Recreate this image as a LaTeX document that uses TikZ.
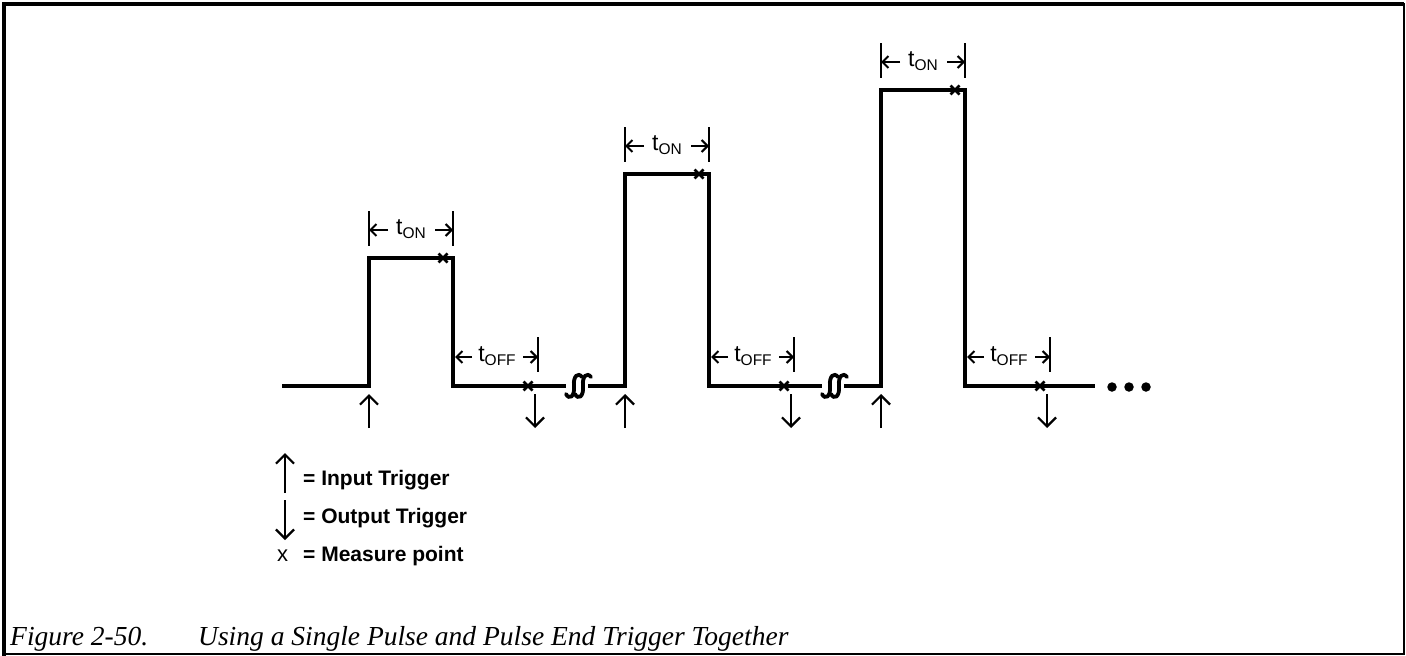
\documentclass[tikz,border=0pt]{standalone}
\usepackage{fontspec}
\setsansfont{Liberation Sans}
\setmainfont{Liberation Serif}
\usetikzlibrary{arrows.meta}
\newcommand\tsub[1]{{\fontsize{23}{23}\selectfont t}\raisebox{-4pt}{\fontsize{15.5}{15.5}\selectfont #1}}
\begin{document}
\begin{tikzpicture}[x=1pt,y=-1pt,
  wave/.style={line width=4pt},
  trig/.style={line width=2.2pt,-{Straight Barb[length=9pt,width=18pt,line width=2.2pt]}},
  dimarr/.style={line width=2pt,-{Straight Barb[length=6pt,width=12pt,line width=2pt]}},
  tickline/.style={line width=2.4pt},
  xmark/.style={line width=2.6pt},
  brk/.style={line width=3.8pt,line cap=round},
  lbl/.style={font=\sffamily,inner sep=0pt},
  leg/.style={font=\sffamily\bfseries\fontsize{21}{21}\selectfont,inner sep=0pt,anchor=base west},
  dot/.style={circle,fill=black,inner sep=0pt,minimum size=9.5pt}]
\useasboundingbox (0,0) rectangle (1406,656);
% frame
\draw[line width=4pt] (4,656) -- (4,4) -- (1404,4);
\draw[line width=2pt] (1404.3,3) -- (1404.3,653.8) -- (3,653.8);
% waveform
\coordinate (s0) at (282,386);
\foreach \i in {0,1,2}{
  \pgfmathsetmacro\ox{256*\i}
  \pgfmathsetmacro\ptop{258-84*\i}
  \coordinate (r\i) at (369+\ox,386);
  \coordinate (rt\i) at (369+\ox,\ptop);
  \coordinate (ft\i) at (453+\ox,\ptop);
  \coordinate (f\i) at (453+\ox,386);
  \coordinate (mt\i) at (443+\ox,\ptop);
  \coordinate (mb\i) at (528+\ox,386);
  % ton dimension
  \coordinate (ta\i) at (369+\ox,\ptop-47);
  \coordinate (tb\i) at (369+\ox,\ptop-12);
  \coordinate (tc\i) at (453+\ox,\ptop-47);
  \coordinate (td\i) at (453+\ox,\ptop-12);
  \coordinate (tl\i) at (369+\ox,\ptop-28);
  \coordinate (tr\i) at (453+\ox,\ptop-28);
  \draw[tickline] (ta\i) -- (tb\i);
  \draw[tickline] (tc\i) -- (td\i);
  \node[lbl] (ton\i) at (411+\ox,\ptop-29) {\tsub{ON}};
  \draw[dimarr] ([xshift=19pt]tl\i) -- (tl\i);
  \draw[dimarr] ([xshift=-18pt]tr\i) -- (tr\i);
  % toff dimension
  \coordinate (oa\i) at (538+\ox,337);
  \coordinate (ob\i) at (538+\ox,372);
  \coordinate (ol\i) at (455+\ox,357);
  \coordinate (or\i) at (538+\ox,357);
  \draw[tickline] (oa\i) -- (ob\i);
  \node[lbl] (toff\i) at (497+\ox,356) {\tsub{OFF}};
  \draw[dimarr] ([xshift=17pt]ol\i) -- (ol\i);
  \draw[dimarr] ([xshift=-15pt]or\i) -- (or\i);
  % measure marks
  \draw[xmark] ([shift={(-4.5,-4.5)}]mt\i) -- ([shift={(4.5,4.5)}]mt\i) ([shift={(-4.5,4.5)}]mt\i) -- ([shift={(4.5,-4.5)}]mt\i);
  \draw[xmark] ([shift={(-4.5,-4.5)}]mb\i) -- ([shift={(4.5,4.5)}]mb\i) ([shift={(-4.5,4.5)}]mb\i) -- ([shift={(4.5,-4.5)}]mb\i);
  % triggers
  \coordinate (ua\i) at (369+\ox,428);
  \coordinate (ub\i) at (369+\ox,394);
  \draw[trig] (ua\i) -- (ub\i);
  \coordinate (da\i) at (535+\ox,394);
  \coordinate (db\i) at (535+\ox,428);
  \draw[trig] (da\i) -- (db\i);
}
\coordinate (b0l) at (566,386);
\coordinate (b0r) at (588,386);
\coordinate (b1l) at (822,386);
\coordinate (b1r) at (844,386);
\coordinate (e0) at (1095,386);
\draw[wave] (s0) -- (r0) -- (rt0) -- (ft0) -- (f0) -- (b0l);
\draw[wave] (b0r) -- (r1) -- (rt1) -- (ft1) -- (f1) -- (b1l);
\draw[wave] (b1r) -- (r2) -- (rt2) -- (ft2) -- (f2) -- (e0);
% break symbols
\foreach \b in {0,1}{
  \pgfmathsetmacro\bx{256*\b}
  \foreach \d in {0,9}{
    \draw[brk] (566+\bx+\d,394) .. controls (569+\bx+\d,400) and (575+\bx+\d,397) .. (574+\bx+\d,386)
      .. controls (573+\bx+\d,376) and (578+\bx+\d,372) .. (582+\bx+\d,377);
  }
}
% dots
\node[dot] (d1) at (1112,387) {};
\node[dot] (d2) at (1129,387) {};
\node[dot] (d3) at (1146,387) {};
% legend
\coordinate (lua) at (285,493);
\coordinate (lub) at (285,453);
\draw[trig] (lua) -- (lub);
\node[leg] (l1) at (303,485) {= Input Trigger};
\coordinate (lda) at (285,500);
\coordinate (ldb) at (285,540);
\draw[trig] (lda) -- (ldb);
\node[leg] (l2) at (303,523) {= Output Trigger};
\node[leg,font=\sffamily\fontsize{22}{22}\selectfont] (lx) at (277,561) {x};
\node[leg] (l3) at (303,561) {= Measure point};
% caption
\node[font=\rmfamily\itshape\fontsize{27.5}{27.5}\selectfont,inner sep=0pt,anchor=base west] (cap) at (10,645) {\makebox[188pt][l]{Figure 2-50.}Using a Single Pulse and Pulse End Trigger Together};
\end{tikzpicture}
\end{document}
